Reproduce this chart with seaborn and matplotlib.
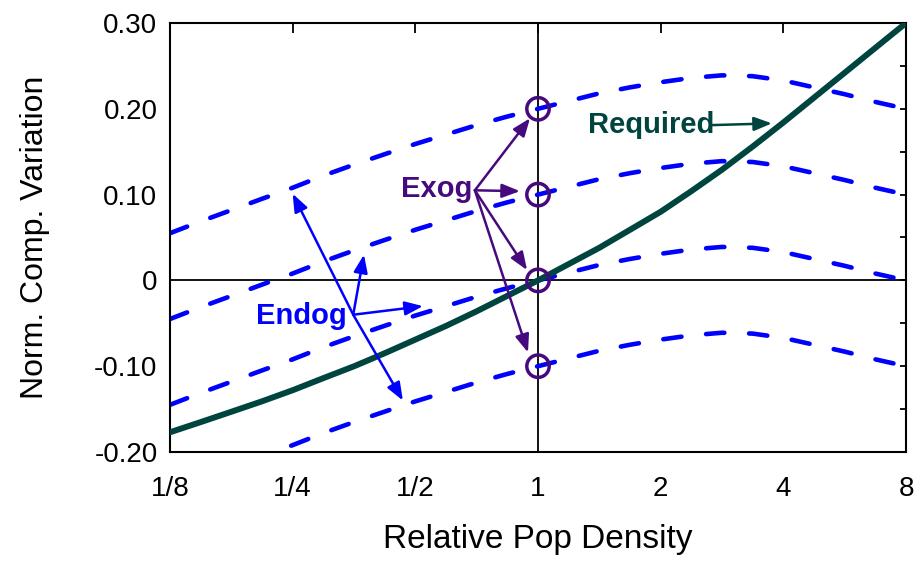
import pandas as pd
import matplotlib
matplotlib.use("Agg")
import matplotlib.pyplot as plt
import seaborn as sns

# relative population density, quarter-octave steps from 1/8 to 8
density = [0.125, 0.149, 0.177, 0.210, 0.25, 0.297, 0.354, 0.420, 0.5,
           0.595, 0.707, 0.841, 1, 1.189, 1.414, 1.682, 2, 2.378, 2.828,
           3.364, 4, 4.757, 5.657, 6.727, 8]

# endogenous variation curves (dashed), one per starting level
endog_a = [0.055, 0.069, 0.082, 0.095, 0.108, 0.122, 0.135, 0.147, 0.159,
           0.170, 0.181, 0.191, 0.200, 0.209, 0.218, 0.225, 0.231, 0.236,
           0.239, 0.238, 0.233, 0.225, 0.217, 0.208, 0.200]
endog_b = [-0.045, -0.031, -0.018, -0.005, 0.008, 0.022, 0.035, 0.047, 0.059,
           0.070, 0.081, 0.091, 0.100, 0.109, 0.118, 0.125, 0.131, 0.136,
           0.139, 0.138, 0.133, 0.125, 0.117, 0.108, 0.100]
endog_c = [-0.145, -0.131, -0.118, -0.105, -0.092, -0.078, -0.065, -0.053, -0.041,
           -0.030, -0.019, -0.009, 0.000, 0.009, 0.018, 0.025, 0.031, 0.036,
           0.039, 0.038, 0.033, 0.025, 0.017, 0.008, 0.000]
endog_d = [-0.245, -0.231, -0.218, -0.205, -0.192, -0.178, -0.165, -0.153, -0.141,
           -0.130, -0.119, -0.109, -0.100, -0.091, -0.082, -0.075, -0.069, -0.064,
           -0.061, -0.062, -0.067, -0.075, -0.083, -0.092, -0.100]

# required compensation variation (solid)
required = [-0.177, -0.165, -0.153, -0.141, -0.128, -0.114, -0.100, -0.085, -0.069,
            -0.053, -0.036, -0.018, 0.000, 0.019, 0.038, 0.059, 0.080, 0.104,
            0.129, 0.156, 0.184, 0.213, 0.242, 0.271, 0.300]

# exogenous points at density 1
exog_x = [1, 1, 1, 1]
exog_y = [0.20, 0.10, 0.0, -0.10]

xticks = [0.125, 0.25, 0.5, 1, 2, 4, 8]
xticklabels = ['1/8', '1/4', '1/2', '1', '2', '4', '8']
yticks = [-0.2, -0.1, 0.0, 0.1, 0.2, 0.3]
yticklabels = ['-0.20', '-0.10', '0', '0.10', '0.20', '0.30']

BLUE = '#0000ff'
GREEN = '#00443f'
PURPLE = '#470a7e'

sns.set_style('white')
plt.rcParams['font.family'] = ['Liberation Sans', 'DejaVu Sans']
plt.rcParams['text.color'] = 'black'
plt.rcParams['axes.labelcolor'] = 'black'

n = len(density)
df = pd.DataFrame({
    'density': density * 4,
    'value': endog_a + endog_b + endog_c + endog_d,
    'curve': ['a'] * n + ['b'] * n + ['c'] * n + ['d'] * n,
})
req = pd.DataFrame({'density': density, 'value': required})
pts = pd.DataFrame({'density': exog_x, 'value': exog_y})

fig = plt.figure(figsize=(9.16, 5.62), dpi=100)
ax = fig.add_axes([170 / 916, 110 / 562, 736 / 916, 429 / 562])

ax.axhline(0, color='black', lw=1.3, zorder=1)
ax.axvline(1, color='black', lw=1.3, zorder=1)

sns.lineplot(data=df, x='density', y='value', units='curve', estimator=None,
             color=BLUE, lw=3.3, ax=ax, zorder=2)
for ln in ax.get_lines()[2:]:
    ln.set_dashes((4.0, 5.4))
    ln.set_dash_capstyle('round')

sns.lineplot(data=req, x='density', y='value', color=GREEN, lw=4.3, ax=ax, zorder=3)

sns.scatterplot(data=pts, x='density', y='value', s=260, marker='o',
                facecolor='none', edgecolor=PURPLE, linewidth=2.5, ax=ax, zorder=5)

ax.set_xscale('log', base=2)
ax.set_xlim(0.125, 8)
ax.set_ylim(-0.2, 0.3)
ax.set_xticks(xticks)
ax.set_xticklabels(xticklabels)
ax.xaxis.set_minor_locator(matplotlib.ticker.NullLocator())
ax.set_yticks(yticks)
ax.set_yticklabels(yticklabels)
ax.set_yticks([-0.15, -0.05, 0.05, 0.15, 0.25], minor=True)

ax.tick_params(axis='x', which='major', direction='in', top=True, length=7,
               width=1.3, labelsize=20, pad=17, colors='black')
ax.tick_params(axis='y', which='both', direction='in', right=True, length=4,
               width=1.3, labelsize=20, pad=9, colors='black')
for sp in ax.spines.values():
    sp.set_color('black')
    sp.set_linewidth(1.5)

ax.set_xlabel('Relative Pop Density', fontsize=24, labelpad=16)
ax.set_ylabel('Norm. Comp. Variation', fontsize=23, labelpad=32)

arrow_kw = dict(arrowstyle='-|>,head_length=0.9,head_width=0.35',
                shrinkA=0, shrinkB=0, mutation_scale=12, lw=1.8)

# Endog annotation
ax.text(0.340, -0.041, 'Endog', color=BLUE, fontsize=21, fontweight='bold',
        ha='right', va='center')
endog_origin = (0.352, -0.040)
for tip in [(0.25, 0.101), (0.466, -0.140), (0.374, 0.030), (0.522, -0.030)]:
    ax.annotate('', xy=tip, xytext=endog_origin,
                arrowprops=dict(color=BLUE, **arrow_kw), zorder=6)

# Exog annotation
ax.text(0.689, 0.106, 'Exog', color=PURPLE, fontsize=21, fontweight='bold',
        ha='right', va='center')
exog_origin = (0.700, 0.105)
for tip in [(0.956, 0.189), (0.903, 0.104), (0.940, 0.012), (0.945, -0.084)]:
    ax.annotate('', xy=tip, xytext=exog_origin,
                arrowprops=dict(color=PURPLE, **arrow_kw), zorder=6)

# Required annotation
ax.text(1.327, 0.181, 'Required', color=GREEN, fontsize=21, fontweight='bold',
        ha='left', va='center')
ax.annotate('', xy=(3.75, 0.183), xytext=(2.673, 0.181),
            arrowprops=dict(color=GREEN, **arrow_kw), zorder=6)

fig.savefig('out.png', dpi=100)
